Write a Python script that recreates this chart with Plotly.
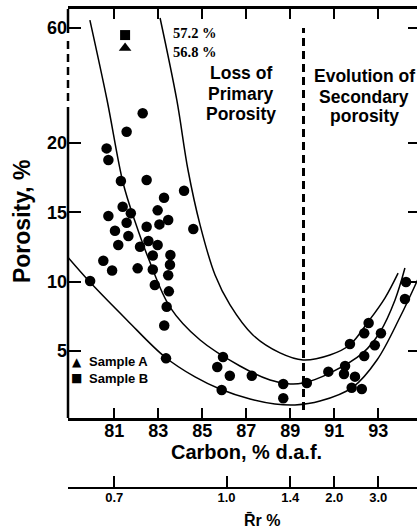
import plotly.graph_objects as go

# ---------------- data ----------------
# measured samples: carbon (% d.a.f.) and porosity (%)
carbon = [82.29, 81.56, 80.65, 80.73, 81.30, 82.47, 84.17, 83.26, 81.38, 82.97,
          81.75, 80.73, 83.45, 81.56, 83.05, 81.03, 82.47, 84.59, 81.64, 82.55,
          82.97, 81.18, 82.17, 82.75, 83.55, 80.50, 83.53, 82.06, 82.75, 80.90,
          83.45, 82.84, 83.48, 83.38, 83.27, 79.90, 83.35, 85.94, 85.68, 86.25,
          85.88, 87.25, 88.68, 88.68, 89.75, 90.73, 91.49, 91.44, 91.94, 91.79,
          92.25, 91.71, 92.36, 92.56, 92.36, 92.84, 93.12, 94.26, 94.21]
porosity = [22.14, 20.81, 19.61, 18.77, 17.26, 17.33, 16.56, 16.05, 15.40, 15.14,
            14.93, 14.73, 14.44, 14.25, 14.13, 13.67, 13.96, 13.80, 13.29, 12.93,
            12.64, 12.64, 12.52, 11.89, 11.92, 11.51, 11.22, 10.96, 10.88, 10.80,
            10.46, 9.76, 9.30, 8.19, 6.84, 10.05, 4.47, 4.57, 3.85, 3.22,
            2.19, 3.22, 2.62, 1.59, 2.69, 3.51, 3.92, 3.34, 3.15, 2.35,
            2.26, 5.50, 6.28, 7.02, 4.64, 5.41, 6.28, 9.97, 8.75]

# Samples A and B sit above the axis break (56.8 % and 57.2 %); values are plotted positions
sample_a_carbon = [81.49]
sample_a_porosity = [26.85]
sample_b_carbon = [81.49]
sample_b_porosity = [27.78]
sample_labels = ["57.2 %", "56.8 %"]

# envelope curves
upper_c = [83.08, 83.84, 84.35, 84.90, 85.58, 86.26, 87.30, 88.53, 89.58, 90.80, 91.70, 92.53, 93.30, 93.90]
upper_p = [29.01, 23.10, 18.05, 14.08, 10.48, 8.32, 6.15, 4.86, 4.35, 4.71, 5.43, 7.09, 8.82, 10.62]
middle_c = [79.89, 80.67, 81.40, 81.95, 82.58, 83.53, 84.90, 86.71, 88.08, 88.99, 89.58, 90.80, 92.30, 93.08, 93.76, 94.21]
middle_p = [28.86, 23.10, 17.11, 14.30, 11.56, 8.17, 5.79, 3.92, 2.91, 2.62, 2.69, 3.41, 4.86, 6.37, 8.68, 10.98]
lower_c = [78.88, 79.89, 81.57, 83.30, 84.67, 85.80, 87.17, 88.30, 89.21, 90.35, 91.85, 92.94, 93.99, 94.99]
lower_p = [11.78, 9.97, 7.24, 4.57, 3.13, 2.26, 1.54, 1.18, 1.11, 1.39, 2.40, 4.35, 7.45, 10.84]

# axes
x_ticks = [81, 83, 85, 87, 89, 91, 93]
y_ticks = [5, 10, 15, 20, 28.29]          # last one is the "60" tick above the break
y_ticktext = ["5", "10", "15", "20", "60"]
rr_carbon = [81, 86.1, 89, 91, 93]         # carbon positions of reflectance ticks
rr_text = ["0.7", "1.0", "1.4", "2.0", "3.0"]
boundary_carbon = 89.6

X_RANGE = [78.895, 94.759]
Y_RANGE = [0.169, 29.66]
Y_DOMAIN = [0.14614, 1]

SANS = "Liberation Sans"
SERIF = "Liberation Serif"


def bold(size, family=SANS):
    return dict(family=family, size=size, color="black", weight="bold")


fig = go.Figure()
for cx, cy in [(upper_c, upper_p), (middle_c, middle_p), (lower_c, lower_p)]:
    fig.add_trace(go.Scatter(x=cx, y=cy, mode="lines",
                             line=dict(color="black", width=1.5, shape="spline", smoothing=1.0),
                             hoverinfo="skip", showlegend=False))
fig.add_trace(go.Scatter(x=carbon, y=porosity, mode="markers",
                         marker=dict(color="black", size=10.5, symbol="circle"), showlegend=False))
fig.add_trace(go.Scatter(x=sample_b_carbon, y=sample_b_porosity, mode="markers",
                         marker=dict(color="black", size=10, symbol="square"), showlegend=False))
fig.add_trace(go.Scatter(x=sample_a_carbon, y=sample_a_porosity, mode="markers",
                         marker=dict(color="black", size=11, symbol="triangle-up"), showlegend=False))
# helper traces so the secondary axes render
fig.add_trace(go.Scatter(x=[], y=[], xaxis="x", yaxis="y2", showlegend=False))
fig.add_trace(go.Scatter(x=[], y=[], xaxis="x2", yaxis="y", showlegend=False))

fig.update_layout(
    width=417, height=529,
    margin=dict(l=68, r=0, t=9, b=41),
    template="none",
    plot_bgcolor="white", paper_bgcolor="white",
    showlegend=False,
    xaxis=dict(range=X_RANGE, domain=[0, 1], anchor="y", tickvals=x_ticks,
               ticks="inside", ticklen=10, tickwidth=2, tickcolor="black",
               showline=True, linewidth=3, linecolor="black", mirror="ticks",
               showgrid=False, zeroline=False, tickfont=bold(18), ticklabelstandoff=-6),
    xaxis2=dict(range=X_RANGE, overlaying="x", anchor="free", position=0, side="bottom",
                tickvals=rr_carbon, ticktext=rr_text,
                ticks="inside", ticklen=11, tickwidth=2, tickcolor="black",
                showline=True, linewidth=2, linecolor="black",
                showgrid=False, zeroline=False, tickfont=bold(13), ticklabelstandoff=-3),
    yaxis=dict(range=Y_RANGE, domain=Y_DOMAIN, anchor="x", tickvals=y_ticks, ticktext=y_ticktext,
               ticks="inside", ticklen=13, tickwidth=2, tickcolor="black",
               showline=False, showgrid=False, zeroline=False, tickfont=bold(18)),
    yaxis2=dict(range=Y_RANGE, overlaying="y", anchor="x", side="right", tickvals=y_ticks,
                showticklabels=False, ticks="inside", ticklen=9, tickwidth=2, tickcolor="black",
                showline=False, showgrid=False, zeroline=False),
)

# left axis with a dashed break
shapes = [
    dict(type="line", xref="x domain", yref="y", x0=0, x1=0, y0=27.93, y1=Y_RANGE[1],
         line=dict(color="black", width=2.5)),
    dict(type="line", xref="x domain", yref="y", x0=0, x1=0, y0=23.02, y1=27.57,
         line=dict(color="black", width=2.5, dash="8px,5px")),
    dict(type="line", xref="x domain", yref="y", x0=0, x1=0, y0=Y_RANGE[0], y1=22.59,
         line=dict(color="black", width=2.5)),
    dict(type="line", xref="x", yref="y", x0=boundary_carbon, x1=boundary_carbon, y0=0.75, y1=28.29,
         line=dict(color="black", width=3, dash="8px,5px")),
]
fig.update_layout(shapes=shapes)

ann = []


def text(x, y, s, font, xanchor="center", xref="x", yref="y", textangle=0):
    ann.append(dict(x=x, y=y, xref=xref, yref=yref, text=s, showarrow=False, font=font,
                    xanchor=xanchor, yanchor="middle", textangle=textangle))


text(83.58, 27.93, sample_labels[0], bold(14.5, SERIF), xanchor="left")
text(83.58, 26.56, sample_labels[1], bold(14.5, SERIF), xanchor="left")

for s, yy in zip(["Loss of", "Primary", "Porosity"], [25.04, 23.53, 22.09]):
    text(86.75, yy, s, bold(17.5))
for s, yy in zip(["Evolution of", "Secondary", "porosity"], [24.83, 23.31, 21.94]):
    text(92.35, yy, s, bold(17.5))

text(79.30, 4.21, "▲", dict(family="DejaVu Sans", size=12, color="black"))
text(79.76, 4.21, "Sample A", bold(13), xanchor="left")
text(79.30, 3.05, "■", dict(family="DejaVu Sans", size=12, color="black"))
text(79.76, 3.05, "Sample B", bold(13), xanchor="left")

text(87.0, 0.0752, "Carbon, % d.a.f.", bold(20), yref="paper")
text(-0.1318, 14.37, "Porosity, %", bold(23), xref="paper", textangle=-90)
text(87.7, -0.0668, "R\u0304r %", bold(16), yref="paper")

fig.update_layout(annotations=ann)

fig.write_html("out.html")
